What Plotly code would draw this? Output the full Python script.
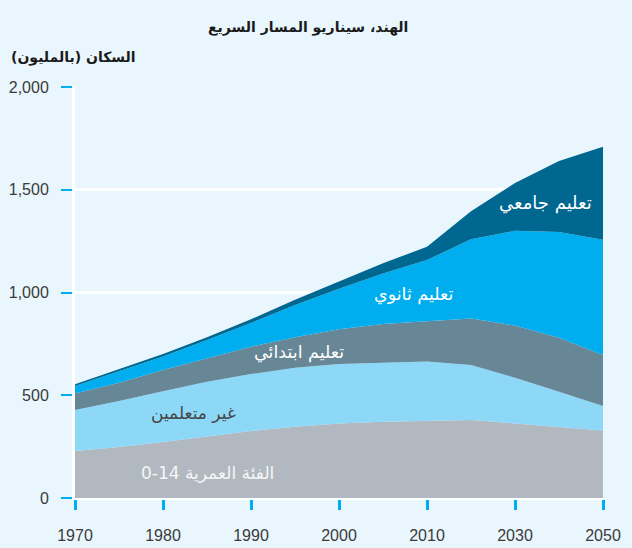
import plotly.graph_objects as go

years = ["1970", "1975", "1980", "1985", "1990", "1995", "2000", "2005", "2010", "2020", "2030", "2040", "2050"]
tick_years = ["1970", "1980", "1990", "2000", "2010", "2030", "2050"]

age_0_14 = [229, 248, 273, 298, 326, 347, 363, 371, 376, 380, 363, 347, 328]
no_education = [199, 224, 247, 268, 277, 287, 289, 288, 288, 267, 222, 170, 120]
primary = [81, 89, 103, 114, 133, 148, 169, 188, 197, 227, 254, 263, 248]
secondary = [36, 54, 65, 89, 116, 157, 197, 246, 297, 385, 461, 515, 561]
tertiary = [8, 11, 13, 13, 18, 26, 37, 49, 65, 136, 233, 345, 452]

series_names = ["الفئة العمرية 0-14", "غير متعلمين", "تعليم ابتدائي", "تعليم ثانوي", "تعليم جامعي"]
series_values = [age_0_14, no_education, primary, secondary, tertiary]
colors = ["#b1b8c0", "#8dd8f7", "#678696", "#00adee", "#006890"]

y_ticks = [0, 500, 1000, 1500, 2000]
y_tick_text = ["0", "500", "1,000", "1,500", "2,000"]

fig = go.Figure()
for name, vals, col in zip(series_names, series_values, colors):
    fig.add_trace(go.Scatter(
        x=years, y=vals, name=name, mode="lines", stackgroup="one",
        line=dict(width=0, color=col), fillcolor=col, hoverinfo="skip",
    ))

tick_font = dict(family="Liberation Sans, Arial, sans-serif", size=16, color="#3a3a3a")
ar_font = "DejaVu Sans, sans-serif"

fig.update_layout(
    width=632, height=548,
    margin=dict(l=75, r=29, t=87, b=50, autoexpand=False),
    paper_bgcolor="#eaf6fd", plot_bgcolor="#eaf6fd",
    showlegend=False,
    xaxis=dict(
        type="category", categoryorder="array", categoryarray=years,
        range=[0, len(years) - 1], automargin=False,
        tickmode="array", tickvals=tick_years, ticktext=tick_years,
        ticks="outside", ticklen=10, tickwidth=3, tickcolor="#00aeef",
        showgrid=False, showline=True, linecolor="white", linewidth=2,
        tickfont=tick_font, ticklabelstandoff=12, fixedrange=True,
    ),
    yaxis=dict(
        range=[0, 2000], tickmode="array", tickvals=y_ticks, ticktext=y_tick_text,
        automargin=False,
        ticks="outside", ticklen=11, tickwidth=2, tickcolor="#00aeef",
        showgrid=True, gridcolor="white", gridwidth=3,
        zeroline=False, showline=True, linecolor="white", linewidth=3,
        tickfont=tick_font, ticklabelstandoff=9, fixedrange=True,
    ),
)

fig.add_annotation(text="<b>الهند، سيناريو المسار السريع</b>", xref="paper", yref="paper",
                   x=0.442, y=1, yshift=70, showarrow=False,
                   font=dict(family=ar_font, size=14, color="#1a1a1a"))
fig.add_annotation(text="<b>\u200fالسكان (بالمليون)\u200f</b>", xref="paper", yref="paper",
                   x=0, xshift=-66, xanchor="left", y=1, yshift=40, showarrow=False,
                   font=dict(family=ar_font, size=14, color="#1a1a1a"))

labels = [
    ("0-14 الفئة العمرية", 6.0, 122, "#f4f6f8", 17),
    ("غير متعلمين", 5.4, 414, "#454545", 17),
    ("تعليم ابتدائي", 10.2, 706, "#ffffff", 17.5),
    ("تعليم ثانوي", 15.4, 988, "#ffffff", 17.5),
    ("تعليم جامعي", 21.4, 1435, "#ffffff", 18),
]
for txt, xi, yv, col, fs in labels:
    fig.add_annotation(text=txt, x=xi / 2, y=yv, xref="x", yref="y", showarrow=False,
                       font=dict(family=ar_font, size=fs, color=col))

fig.write_html(
    "out.html",
    config={"displayModeBar": False, "staticPlot": True},
    post_script="document.body.style.margin='0';document.body.style.background='#eaf6fd';",
)
